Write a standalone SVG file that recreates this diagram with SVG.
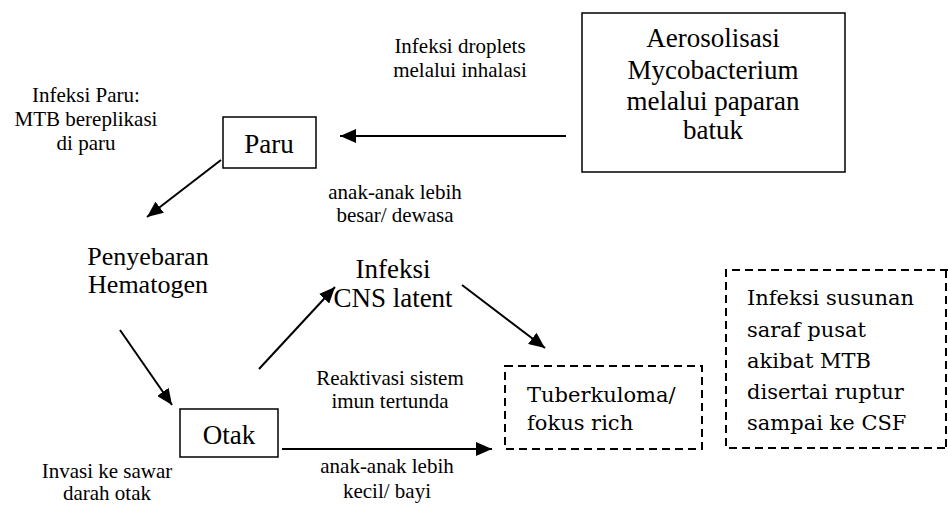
<svg xmlns="http://www.w3.org/2000/svg" width="948" height="506" viewBox="0 0 948 506" font-family="Liberation Serif">
<rect width="948" height="506" fill="#fff"/>
<g id="aerosol">
<rect fill="#fff" stroke="#000" stroke-width="1.5" x="582" y="13" width="263" height="159"/>
<text style="font-family:'Liberation Serif'" font-size="27" text-anchor="middle" x="713" y="47">Aerosolisasi</text>
<text style="font-family:'Liberation Serif'" font-size="27" text-anchor="middle" x="713" y="79">Mycobacterium</text>
<text style="font-family:'Liberation Serif'" font-size="27" text-anchor="middle" x="713" y="110">melalui paparan</text>
<text style="font-family:'Liberation Serif'" font-size="27" text-anchor="middle" x="713" y="139">batuk</text>
</g>
<g id="paru">
<rect fill="#fff" stroke="#000" stroke-width="1.5" x="223" y="117" width="93" height="51"/>
<text style="font-family:'Liberation Serif'" font-size="27" text-anchor="middle" x="269" y="153">Paru</text>
</g>
<g id="penyebaran">
<text style="font-family:'Liberation Serif'" font-size="26" text-anchor="middle" x="148" y="265">Penyebaran</text>
<text style="font-family:'Liberation Serif'" font-size="26" text-anchor="middle" x="148" y="293">Hematogen</text>
</g>
<g id="otak">
<rect fill="#fff" stroke="#000" stroke-width="1.5" x="180" y="409" width="98" height="48"/>
<text style="font-family:'Liberation Serif'" font-size="27" text-anchor="middle" x="229" y="444">Otak</text>
</g>
<g id="cns">
<text style="font-family:'Liberation Serif'" font-size="27" text-anchor="middle" x="393" y="278">Infeksi</text>
<text style="font-family:'Liberation Serif'" font-size="27" text-anchor="middle" x="393" y="307">CNS latent</text>
</g>
<g id="tuberkuloma">
<rect fill="none" stroke="#000" stroke-width="2" stroke-dasharray="8 5" x="505" y="366" width="197" height="83"/>
<text style="font-family:'DejaVu Serif'" font-size="21" x="527" y="402">Tuberkuloma/</text>
<text style="font-family:'DejaVu Serif'" font-size="21" x="527" y="430">fokus rich</text>
</g>
<g id="infeksi-ssp">
<path fill="none" stroke="#000" stroke-width="2" stroke-dasharray="8 5" d="M948,270 H726 V448 H948"/>
<line x1="946" y1="270" x2="946" y2="448" stroke="#000" stroke-width="2" stroke-dasharray="8 5"/>
<text style="font-family:'DejaVu Serif'" font-size="21" x="747" y="305">Infeksi susunan</text>
<text style="font-family:'DejaVu Serif'" font-size="21" x="747" y="337">saraf pusat</text>
<text style="font-family:'DejaVu Serif'" font-size="21" x="747" y="368">akibat MTB</text>
<text style="font-family:'DejaVu Serif'" font-size="21" x="747" y="399">disertai ruptur</text>
<text style="font-family:'DejaVu Serif'" font-size="21" x="747" y="430">sampai ke CSF</text>
</g>
<g id="labels">
<text style="font-family:'Liberation Serif'" font-size="21" text-anchor="middle" x="460" y="53">Infeksi droplets</text>
<text style="font-family:'Liberation Serif'" font-size="21" text-anchor="middle" x="460" y="77">melalui inhalasi</text>
<text style="font-family:'Liberation Serif'" font-size="21" text-anchor="middle" x="86" y="102">Infeksi Paru:</text>
<text style="font-family:'Liberation Serif'" font-size="21" text-anchor="middle" x="86" y="126">MTB bereplikasi</text>
<text style="font-family:'Liberation Serif'" font-size="21" text-anchor="middle" x="86" y="150">di paru</text>
<text style="font-family:'Liberation Serif'" font-size="21" text-anchor="middle" x="395" y="199">anak-anak lebih</text>
<text style="font-family:'Liberation Serif'" font-size="21" text-anchor="middle" x="395" y="222">besar/ dewasa</text>
<text style="font-family:'Liberation Serif'" font-size="21" text-anchor="middle" x="390" y="385">Reaktivasi sistem</text>
<text style="font-family:'Liberation Serif'" font-size="21" text-anchor="middle" x="390" y="408">imun tertunda</text>
<text style="font-family:'Liberation Serif'" font-size="21" text-anchor="middle" x="387" y="473">anak-anak lebih</text>
<text style="font-family:'Liberation Serif'" font-size="21" text-anchor="middle" x="387" y="498">kecil/ bayi</text>
<text style="font-family:'Liberation Serif'" font-size="21" text-anchor="middle" x="107" y="478">Invasi ke sawar</text>
<text style="font-family:'Liberation Serif'" font-size="21" text-anchor="middle" x="107" y="500">darah otak</text>
</g>
<defs>
<marker id="ah" markerUnits="userSpaceOnUse" markerWidth="18" markerHeight="14" refX="16" refY="7" orient="auto">
<path d="M0,0 L16,7 L0,14 Z" fill="#000"/>
</marker>
</defs>
<g id="connectors" stroke="#000" stroke-width="2" marker-end="url(#ah)">
<line x1="566" y1="136" x2="340" y2="136"/>
<line x1="221" y1="160" x2="147" y2="217"/>
<line x1="120" y1="330" x2="172" y2="405"/>
<line x1="259" y1="369" x2="335" y2="287"/>
<line x1="462" y1="285" x2="545" y2="348"/>
<line x1="282" y1="449" x2="492" y2="449"/>
</g>
</svg>
